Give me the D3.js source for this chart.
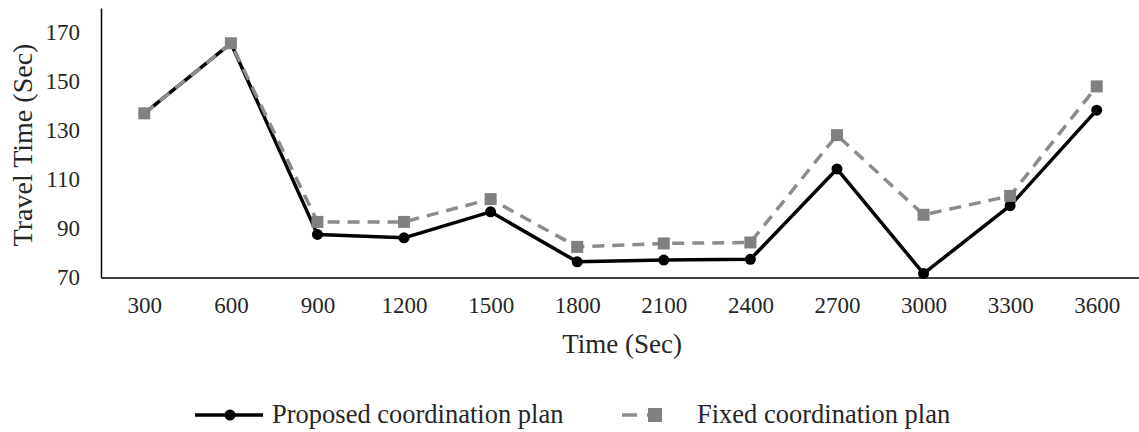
<!DOCTYPE html>
<html>
<head>
<meta charset="utf-8">
<script src="https://cdn.jsdelivr.net/npm/d3@7"></script>
<style>
  body { margin: 0; background: #fff; }
  text { font-family: "Liberation Serif", "Times New Roman", serif; fill: #262626; }
</style>
</head>
<body>
<svg id="chart" width="1139" height="432"></svg>
<script>
// data
const times = ["300", "600", "900", "1200", "1500", "1800", "2100", "2400", "2700", "3000", "3300", "3600"];
const proposed = [137, 165.6, 87.6, 86.2, 96.8, 76.4, 77.1, 77.4, 114.3, 71.6, 99.3, 138.3];
const fixed = [137, 165.6, 92.7, 92.7, 102, 82.5, 83.9, 84.3, 128.1, 95.6, 103.3, 148];
const yTicks = [70, 90, 110, 130, 150, 170];
const seriesNames = ["Proposed coordination plan", "Fixed coordination plan"];

const svg = d3.select("#chart");

const x = d3.scalePoint()
    .domain(times)
    .range([101, 1140])
    .padding(0.5);

const y = d3.scaleLinear()
    .domain([70, 180])
    .range([277.5, 8]);

// axes
const yAxis = d3.axisLeft(y).tickValues(yTicks).tickSize(0).tickPadding(21);
svg.append("g")
    .attr("transform", "translate(101,0)")
    .call(yAxis)
    .call(g => g.select(".domain").attr("stroke", "#000").attr("stroke-width", 1.5))
    .selectAll("text")
    .attr("font-size", 23)
    .attr("font-family", "Liberation Serif")
    .attr("fill", "#262626");

const xAxis = d3.axisBottom(x).tickSize(0).tickPadding(19.5);
svg.append("g")
    .attr("transform", "translate(0,277.5)")
    .call(xAxis)
    .call(g => g.select(".domain").attr("stroke", "#000").attr("stroke-width", 1.5))
    .selectAll("text")
    .attr("font-size", 23)
    .attr("font-family", "Liberation Serif")
    .attr("fill", "#262626");

// axis titles
svg.append("text")
    .attr("x", 622)
    .attr("y", 352.5)
    .attr("text-anchor", "middle")
    .attr("font-size", 27)
    .text("Time (Sec)");

svg.append("text")
    .attr("transform", "translate(32,145) rotate(-90)")
    .attr("text-anchor", "middle")
    .attr("font-size", 28)
    .text("Travel Time (Sec)");

// lines
const line = d3.line()
    .x((d, i) => x(times[i]))
    .y(d => y(d));

svg.append("path")
    .datum(proposed)
    .attr("d", line)
    .attr("fill", "none")
    .attr("stroke", "#000")
    .attr("stroke-width", 3.5)
    .attr("stroke-linejoin", "round");

svg.append("g")
    .selectAll("circle")
    .data(proposed)
    .join("circle")
    .attr("cx", (d, i) => x(times[i]))
    .attr("cy", d => y(d))
    .attr("r", 5.5)
    .attr("fill", "#000");

svg.append("path")
    .datum(fixed)
    .attr("d", line)
    .attr("fill", "none")
    .attr("stroke", "#8c8c8c")
    .attr("stroke-width", 3.5)
    .attr("stroke-dasharray", "12,8");

const sq = 12;
svg.append("g")
    .selectAll("rect")
    .data(fixed)
    .join("rect")
    .attr("x", (d, i) => x(times[i]) - sq / 2)
    .attr("y", d => y(d) - sq / 2)
    .attr("width", sq)
    .attr("height", sq)
    .attr("fill", "#808080");

// legend
const legend = svg.append("g");
legend.append("line")
    .attr("x1", 195).attr("x2", 263)
    .attr("y1", 415).attr("y2", 415)
    .attr("stroke", "#000")
    .attr("stroke-width", 3.5);
legend.append("circle")
    .attr("cx", 230).attr("cy", 415).attr("r", 5.5)
    .attr("fill", "#000");
legend.append("text")
    .attr("x", 272).attr("y", 423)
    .attr("font-size", 26.5)
    .text(seriesNames[0]);

legend.append("line")
    .attr("x1", 622).attr("x2", 672)
    .attr("y1", 415).attr("y2", 415)
    .attr("stroke", "#8c8c8c")
    .attr("stroke-width", 3.5)
    .attr("stroke-dasharray", "15,10");
legend.append("rect")
    .attr("x", 648).attr("y", 408)
    .attr("width", 14).attr("height", 14)
    .attr("fill", "#808080");
legend.append("text")
    .attr("x", 697).attr("y", 423)
    .attr("font-size", 26.5)
    .text(seriesNames[1]);
</script>
</body>
</html>
